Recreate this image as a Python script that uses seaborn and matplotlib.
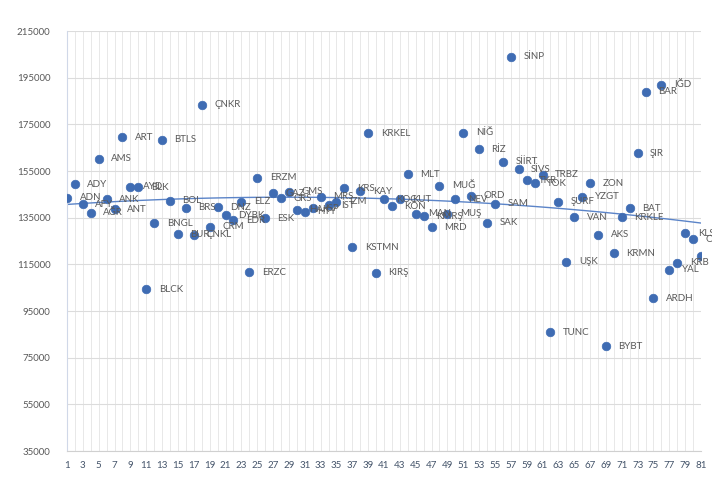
import matplotlib
matplotlib.use("Agg")
import matplotlib.pyplot as plt
import seaborn as sns
import numpy as np
import pandas as pd

codes = list(range(1, 82))
names = ["ADN", "ADY", "AFY", "AĞR", "AMS", "ANK", "ANT", "ART", "AYD", "BLK",
         "BLCK", "BNGL", "BTLS", "BOL", "BUR", "BRS", "ÇNKL", "ÇNKR", "ÇRM", "DNZ",
         "DYBK", "EDR", "ELZ", "ERZC", "ERZM", "ESK", "GAZ", "GRS", "GMS", "HAK",
         "HTY", "ISP", "MRS", "İST", "İZM", "KRS", "KSTMN", "KAY", "KRKEL", "KIRŞ",
         "KOC", "KON", "KUT", "MLT", "MAN", "KMRŞ", "MRD", "MUĞ", "MUŞ", "NEV",
         "NİĞ", "ORD", "RİZ", "SAK", "SAM", "SİİRT", "SİNP", "SİVS", "TKR", "TOK",
         "TRBZ", "TUNC", "ŞURF", "UŞK", "VAN", "YZGT", "ZON", "AKS", "BYBT", "KRMN",
         "KRKLE", "BAT", "ŞIR", "BAR", "ARDH", "IĞD", "YAL", "KRB", "KLS", "OSM", "DÜZ"]
values = [143500, 149300, 140800, 137100, 160300, 142900, 138700, 169400, 148300, 148000,
          104400, 132600, 168300, 142300, 128000, 139300, 127600, 183300, 131100, 139400,
          136100, 134000, 141800, 111700, 152100, 134700, 145400, 143300, 146100, 138300,
          137600, 139000, 144000, 140400, 141800, 147600, 122400, 146400, 171200, 111300,
          143000, 140000, 142900, 153700, 136600, 135700, 130900, 148600, 136600, 142900,
          171400, 144300, 164300, 132800, 140900, 159000, 204000, 155700, 151100, 149700,
          153300, 86000, 141800, 116100, 135200, 144000, 149700, 127600, 80000, 119700,
          135200, 139000, 162600, 189000, 100400, 191900, 112600, 115700, 128300, 125700,
          118600]
y_ticks = list(range(35000, 215001, 20000))

df = pd.DataFrame({"code": codes, "name": names, "value": values})

sns.set_theme(style="white")
plt.rcParams['font.family'] = ['Lato', 'DejaVu Sans']

fig = plt.figure(figsize=(7.12, 4.86), dpi=100)
ax = fig.add_axes([67/712, 1-451/486, (701-67)/712, (451-31)/486])

grid_c = "#DCDCDC"
sns.regplot(data=df, x="code", y="value", scatter=False, ci=None, truncate=True,
            order=2, ax=ax, line_kws=dict(color="#5B84C8", lw=1.0, zorder=2))
sns.scatterplot(data=df, x="code", y="value", ax=ax, s=38, color="#3F6CB3",
                edgecolor="#3F6CB3", linewidth=0.5, zorder=3, legend=False)

for c, n, v in zip(codes, names, values):
    ax.annotate(n, (c, v), xytext=(9, 0), textcoords="offset points",
                ha="left", va="center", fontsize=7, color="#595959",
                annotation_clip=False, clip_on=False, zorder=4)

ax.set_xlim(1, 81)
ax.set_ylim(35000, 215000)
ax.set_yticks(y_ticks)
ax.set_yticklabels([str(t) for t in y_ticks], fontsize=7, color="#595959")
ax.set_xticks(codes)
ax.set_xticklabels([str(c) if c % 2 == 1 else "" for c in codes], fontsize=7, color="#44546A")
ax.tick_params(axis="both", length=0, pad=7)
ax.tick_params(axis="y", pad=12)
ax.grid(True, axis="y", color=grid_c, lw=0.8)
ax.grid(True, axis="x", color="#E8E8E8", lw=0.7)
ax.set_axisbelow(True)
ax.set_xlabel("")
ax.set_ylabel("")
for s in ["top", "right"]:
    ax.spines[s].set_visible(False)
ax.spines["left"].set_color("#D0D8E8")
ax.spines["bottom"].set_color("#D0D0D0")
ax.spines["left"].set_linewidth(0.8)
ax.spines["bottom"].set_linewidth(0.8)

fig.savefig("out.png", dpi=100)
